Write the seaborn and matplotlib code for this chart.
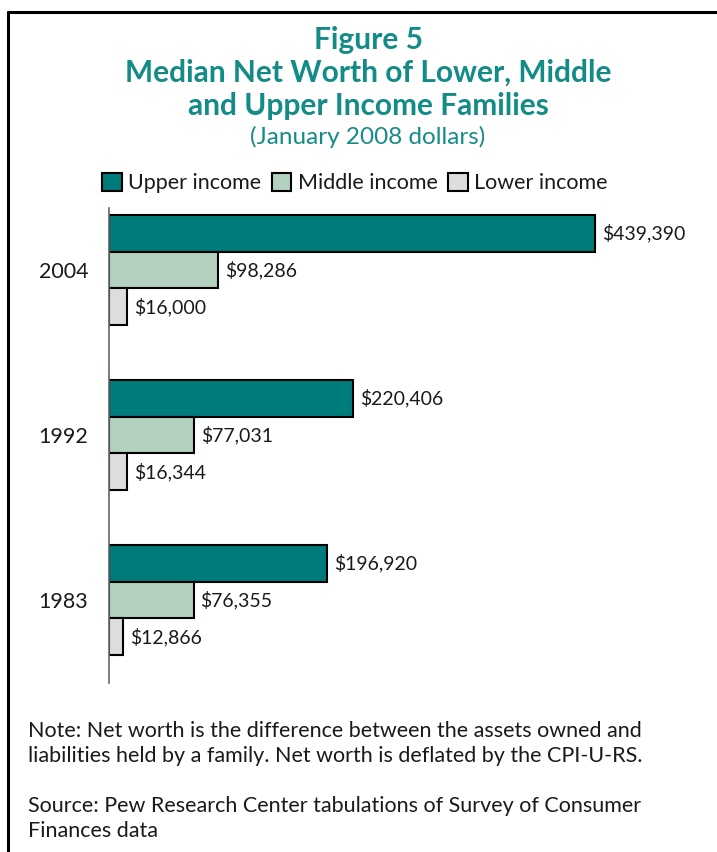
import matplotlib
matplotlib.use("Agg")
import matplotlib.pyplot as plt
import seaborn as sns
import pandas as pd
from matplotlib.lines import Line2D
from matplotlib.patches import Patch

# Median net worth by income tier (January 2008 dollars)
years = ["2004", "1992", "1983"]
tiers = ["Upper income", "Middle income", "Lower income"]
upper = [439390, 220406, 196920]
middle = [98286, 77031, 76355]
lower = [16000, 16344, 12866]

colors = ["#007B7B", "#B3D1BE", "#DDDDDD"]

rows = []
for tier, vals in zip(tiers, [upper, middle, lower]):
    for yr, v in zip(years, vals):
        rows.append({"year": yr, "tier": tier, "value": v})
df = pd.DataFrame(rows)

sns.set_style("white")
plt.rcParams["font.family"] = ["Lato", "DejaVu Sans"]
text_color = "#1a1a1a"
title_color = "#138C87"

fig = plt.figure(figsize=(7.17, 8.52), dpi=100)
W, H = 717, 852
ax = fig.add_axes([109 / W, 1 - 683 / H, (700 - 109) / W, (683 - 208) / H])

sns.barplot(data=df, y="year", x="value", hue="tier", order=years,
            hue_order=tiers, palette=colors, saturation=1, orient="h",
            width=0.667, edgecolor="black", linewidth=1.5, legend=False, ax=ax)

ax.set_xlim(0, 534000)
ax.set_ylim(2.503, -0.376)
ax.set_xlabel("")
ax.set_ylabel("")
ax.set_xticks([])
for s in ["top", "right", "bottom"]:
    ax.spines[s].set_visible(False)
ax.spines["left"].set_color("#666666")
ax.spines["left"].set_linewidth(1.2)
ax.tick_params(axis="y", length=0, pad=15, labelsize=15.5, labelcolor=text_color)

for cont in ax.containers:
    ax.bar_label(cont, labels=[f"${v:,.0f}" for v in cont.datavalues],
                 padding=5, fontsize=14, color=text_color)

# Title block
fig.text(368 / W, 1 - 40 / H, "Figure 5", ha="center", va="center",
         fontsize=21.5, fontweight="bold", color=title_color)
fig.text(368 / W, 1 - 73 / H, "Median Net Worth of Lower, Middle",
         ha="center", va="center", fontsize=21.5, fontweight="bold", color=title_color)
fig.text(368 / W, 1 - 106 / H, "and Upper Income Families",
         ha="center", va="center", fontsize=21.5, fontweight="bold", color=title_color)
fig.text(368 / W, 1 - 137 / H, "(January 2008 dollars)",
         ha="center", va="center", fontsize=17.5, color=title_color)

# Legend
handles = [Patch(facecolor=c, edgecolor="black", linewidth=1.5) for c in colors]
fig.legend(handles, tiers, loc="center", bbox_to_anchor=(355 / W, 1 - 183 / H),
           ncol=3, frameon=False, fontsize=15.5, handlelength=0.9, handleheight=0.9,
           handletextpad=0.3, columnspacing=0.5, labelcolor=text_color)

# Notes
fig.text(28 / W, 1 - 731 / H,
         "Note: Net worth is the difference between the assets owned and",
         ha="left", va="center", fontsize=15.5, color=text_color)
fig.text(28 / W, 1 - 756 / H,
         "liabilities held by a family. Net worth is deflated by the CPI-U-RS.",
         ha="left", va="center", fontsize=15.5, color=text_color)
fig.text(28 / W, 1 - 806 / H,
         "Source: Pew Research Center tabulations of Survey of Consumer",
         ha="left", va="center", fontsize=15.5, color=text_color)
fig.text(28 / W, 1 - 831 / H, "Finances data",
         ha="left", va="center", fontsize=15.5, color=text_color)

# Frame around the figure
fig.add_artist(Line2D([8 / W, 1.0], [1 - 12 / H, 1 - 12 / H],
                      transform=fig.transFigure, color="black", linewidth=2.2))
fig.add_artist(Line2D([8 / W, 8 / W], [1 - 12 / H, 0.0],
                      transform=fig.transFigure, color="black", linewidth=2.2))

fig.savefig("out.png", dpi=100)
